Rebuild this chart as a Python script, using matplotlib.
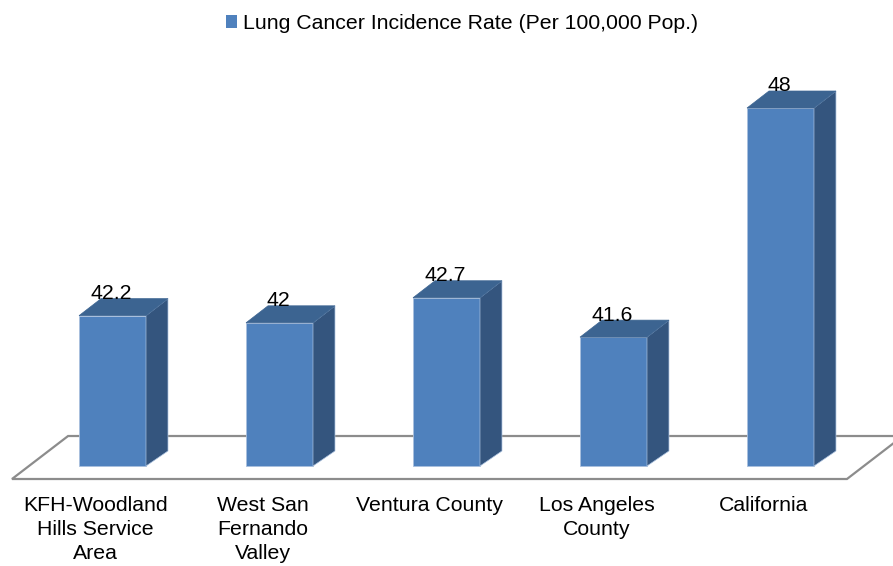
import matplotlib
matplotlib.use("Agg")
import matplotlib.pyplot as plt
from matplotlib.patches import Polygon, Rectangle

categories = ["KFH-Woodland\nHills Service\nArea", "West San\nFernando\nValley",
              "Ventura County", "Los Angeles\nCounty", "California"]
values = [42.2, 42.0, 42.7, 41.6, 48.0]
value_labels = ["42.2", "42", "42.7", "41.6", "48"]
series_name = "Lung Cancer Incidence Rate (Per 100,000 Pop.)"

plt.rcParams['font.family'] = ['Liberation Sans', 'DejaVu Sans']
FS = 15.3

fig = plt.figure(figsize=(8.93, 5.66), dpi=100)
ax = fig.add_axes([0, 0, 1, 1])
ax.set_xlim(-0.6737, 4.6737)
ax.set_ylim(35.207, 51.017)
ax.axis('off')

base = 38.0
width = 0.401
dx = 0.1317          # depth offset in x units
dy_top = 0.475       # depth offset in y units (top)
dy_bot = 0.42        # depth offset in y units (bottom)

front_c = '#4F81BD'
side_c = '#34557E'
top_c = '#3C6491'
edge_c = '#A9C0DE'

# floor
f_front, f_back = base - 0.363, base + 0.838
floor = Polygon([(-0.602, f_front), (4.398, f_front), (4.733, f_back), (-0.266, f_back)],
                closed=True, facecolor='white', edgecolor='#8C8C8C', lw=1.6, zorder=1)
ax.add_patch(floor)

x = list(range(len(values)))
bars = ax.bar(x, [v - base for v in values], bottom=base, width=width,
              color=front_c, edgecolor=edge_c, linewidth=0.6, zorder=3, label=series_name)

for i, v in enumerate(values):
    xl, xr = i - width / 2, i + width / 2
    side = Polygon([(xr, base), (xr + dx, base + dy_bot), (xr + dx, v + dy_top), (xr, v)],
                   closed=True, facecolor=side_c, edgecolor=edge_c, lw=0.5, zorder=3)
    top = Polygon([(xl, v), (xl + dx, v + dy_top), (xr + dx, v + dy_top), (xr, v)],
                  closed=True, facecolor=top_c, edgecolor=top_c, lw=0.5, zorder=3)
    ax.add_patch(side)
    ax.add_patch(top)
    ax.text(i - 0.005, v + 0.615, value_labels[i], ha='center', va='center',
            fontsize=FS, color='black', zorder=5)
    ax.text(i - 0.102, base - 0.834, categories[i], ha='center', va='top',
            fontsize=FS, color='black', linespacing=1.33, zorder=5)

handle = Rectangle((0, 0), 1, 1, facecolor=front_c, edgecolor='none')
fig.legend([handle], [series_name], loc='center', bbox_to_anchor=(0.517, 0.959),
           frameon=False, fontsize=FS, handlelength=0.55, handleheight=0.55,
           handletextpad=0.25, borderpad=0, borderaxespad=0)

fig.savefig('out.png', dpi=100)
